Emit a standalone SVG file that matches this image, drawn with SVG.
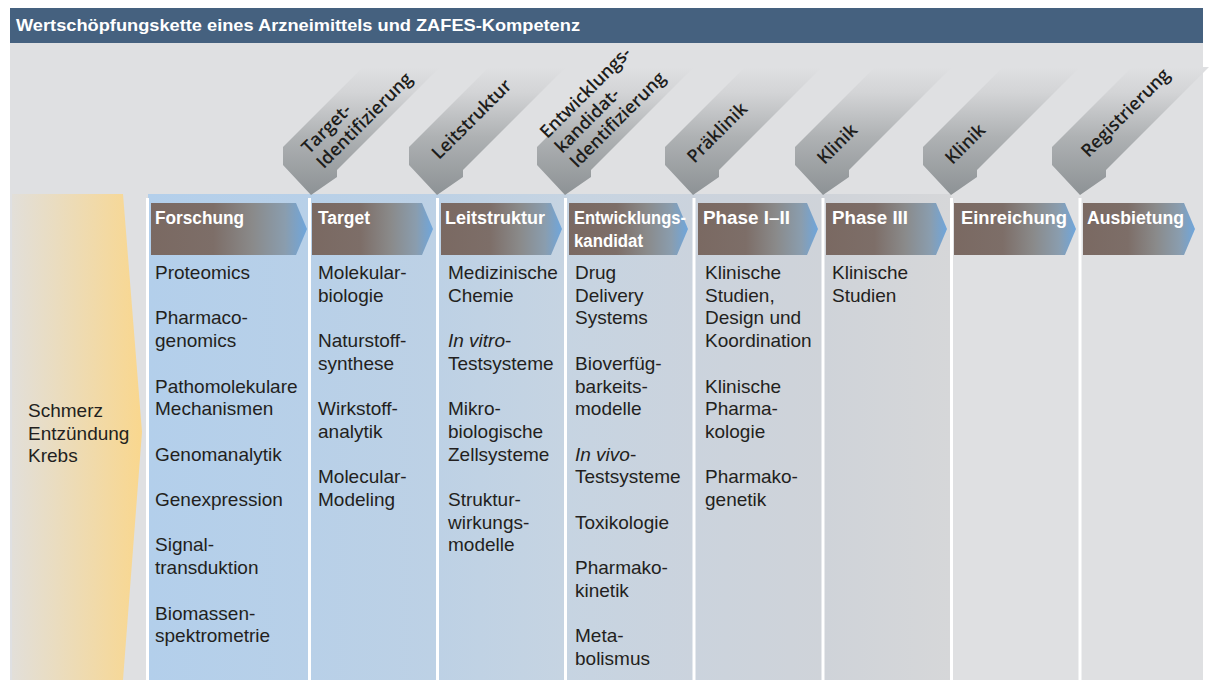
<svg xmlns="http://www.w3.org/2000/svg" width="1210" height="682" viewBox="0 0 1210 682">
<defs>
<linearGradient id="colbg" gradientUnits="userSpaceOnUse" x1="148" y1="0" x2="951" y2="0">
<stop offset="0" stop-color="#b3cfeb"/>
<stop offset="0.2" stop-color="#b8d0e8"/>
<stop offset="0.36" stop-color="#bdd1e5"/>
<stop offset="0.52" stop-color="#c6d4e2"/>
<stop offset="0.68" stop-color="#cbd3dd"/>
<stop offset="0.84" stop-color="#cfd3d9"/>
<stop offset="1" stop-color="#d6d7d9"/>
</linearGradient>
<linearGradient id="orange" gradientUnits="userSpaceOnUse" x1="12" y1="0" x2="140" y2="0">
<stop offset="0" stop-color="#e2dfd9"/>
<stop offset="1" stop-color="#f9d78f"/>
</linearGradient>
<linearGradient id="hdr" x1="0" y1="0" x2="1" y2="0">
<stop offset="0" stop-color="#7a6962"/>
<stop offset="0.4" stop-color="#7d6e68"/>
<stop offset="0.65" stop-color="#8a8a8a"/>
<stop offset="0.86" stop-color="#8a9dae"/>
<stop offset="1" stop-color="#6fa6dc"/>
</linearGradient>
<linearGradient id="band" gradientUnits="userSpaceOnUse" x1="0" y1="0" x2="0" y2="-128">
<stop offset="0" stop-color="#8d9295"/>
<stop offset="0.45" stop-color="#aeb1b3"/>
<stop offset="0.8" stop-color="#d3d4d6"/>
<stop offset="1" stop-color="#dfe0e2"/>
</linearGradient>
<polygon id="chev" points="0,0 -28,-30 -28,-48 52,-128 129,-128 26,-25 26,-18"/>
</defs>
<style>
.body{font-family:"Liberation Sans",Arial,sans-serif;font-size:19px;fill:#231f20}
.hd{font-family:"Liberation Sans",Arial,sans-serif;font-size:18px;font-weight:bold;fill:#ffffff}
.rt{font-family:"Open Sans","Noto Sans",sans-serif;font-size:18px;font-weight:600;fill:#1d1d1b}
.sep{fill:#ffffff}
.hp{fill:url(#hdr)}
.it{font-style:italic}
</style>

<rect x="10" y="8" width="1193" height="674" fill="#ffffff"/>
<rect x="10" y="42" width="1193" height="638" fill="#dfe0e2"/>
<g id="title">
<rect x="10" y="8" width="1193" height="35" fill="#45617f"/>
<text x="16" y="31" font-family="Liberation Sans, Arial, sans-serif" font-size="17" font-weight="bold" fill="#ffffff" textLength="564" lengthAdjust="spacingAndGlyphs">Wertschöpfungskette eines Arzneimittels und ZAFES-Kompetenz</text>
</g>

<g id="indications">
<polygon points="12,194 123,194 142,432 123,680 12,680" fill="url(#orange)"/>
<text class="body"><tspan x="28" y="417">Schmerz</tspan><tspan x="28" y="439.7">Entzündung</tspan><tspan x="28" y="462.4">Krebs</tspan></text>
</g>

<rect id="columns-bg" x="148" y="194" width="803" height="486" fill="url(#colbg)"/>

<g id="separators">
<rect class="sep" x="146" y="198" width="3" height="482"/>
<rect class="sep" x="308" y="198" width="3" height="482"/>
<rect class="sep" x="436" y="198" width="3" height="482"/>
<rect class="sep" x="564" y="198" width="3" height="482"/>
<rect class="sep" x="692.5" y="198" width="3" height="482"/>
<rect class="sep" x="821.5" y="198" width="3" height="482"/>
<rect class="sep" x="950" y="198" width="3" height="482"/>
<rect class="sep" x="1078.5" y="198" width="3" height="482"/>
</g>

<g id="stage-target-identifizierung" transform="translate(311,195)">
<use href="#chev" fill="url(#band)"/>
<text class="rt" transform="rotate(-45)"><tspan x="27" y="-30">Target-</tspan><tspan x="27" y="-9">Identifizierung</tspan></text>
</g>
<g id="stage-leitstruktur" transform="translate(437,195)">
<use href="#chev" fill="url(#band)"/>
<text class="rt" transform="rotate(-45)" x="26" y="-23">Leitstruktur</text>
</g>
<g id="stage-entwicklungskandidat" transform="translate(565,195)">
<use href="#chev" fill="url(#band)"/>
<text class="rt" transform="rotate(-45)"><tspan x="27" y="-52">Entwicklungs-</tspan><tspan x="27" y="-31">kandidat-</tspan><tspan x="27" y="-10">Identifizierung</tspan></text>
</g>
<g id="stage-praeklinik" transform="translate(693,195)">
<use href="#chev" fill="url(#band)"/>
<text class="rt" transform="rotate(-45)" x="23" y="-21">Präklinik</text>
</g>
<g id="stage-klinik-1" transform="translate(823,195)">
<use href="#chev" fill="url(#band)"/>
<text class="rt" transform="rotate(-45)" x="22" y="-20">Klinik</text>
</g>
<g id="stage-klinik-2" transform="translate(951,195)">
<use href="#chev" fill="url(#band)"/>
<text class="rt" transform="rotate(-45)" x="22" y="-20">Klinik</text>
</g>
<g id="stage-registrierung" transform="translate(1080,195)">
<use href="#chev" fill="url(#band)"/>
<text class="rt" transform="rotate(-45)" x="32" y="-20">Registrierung</text>
</g>

<g id="col-forschung">
<polygon class="hp" points="151,203 296,203 307,229 296,255 151,255"/>
<text class="hd" x="155" y="224" textLength="89" lengthAdjust="spacingAndGlyphs">Forschung</text>
<text class="body">
<tspan x="155" y="279">Proteomics</tspan>
<tspan x="155" y="324.4">Pharmaco-</tspan>
<tspan x="155" y="347.1">genomics</tspan>
<tspan x="155" y="392.5">Pathomolekulare</tspan>
<tspan x="155" y="415.2">Mechanismen</tspan>
<tspan x="155" y="460.6">Genomanalytik</tspan>
<tspan x="155" y="506">Genexpression</tspan>
<tspan x="155" y="551.4">Signal-</tspan>
<tspan x="155" y="574.1">transduktion</tspan>
<tspan x="155" y="619.5">Biomassen-</tspan>
<tspan x="155" y="642.2">spektrometrie</tspan>
</text>
</g>

<g id="col-target">
<polygon class="hp" points="312,203 422,203 433,229 422,255 312,255"/>
<text class="hd" x="318" y="224" textLength="52" lengthAdjust="spacingAndGlyphs">Target</text>
<text class="body">
<tspan x="318" y="279">Molekular-</tspan>
<tspan x="318" y="301.7">biologie</tspan>
<tspan x="318" y="347.1">Naturstoff-</tspan>
<tspan x="318" y="369.8">synthese</tspan>
<tspan x="318" y="415.2">Wirkstoff-</tspan>
<tspan x="318" y="437.9">analytik</tspan>
<tspan x="318" y="483.3">Molecular-</tspan>
<tspan x="318" y="506">Modeling</tspan>
</text>
</g>

<g id="col-leitstruktur">
<polygon class="hp" points="441,203 551,203 562,229 551,255 441,255"/>
<text class="hd" x="445" y="224" textLength="100" lengthAdjust="spacingAndGlyphs">Leitstruktur</text>
<text class="body">
<tspan x="448" y="279">Medizinische</tspan>
<tspan x="448" y="301.7">Chemie</tspan>
<tspan x="448" y="347.1"><tspan class="it">In vitro</tspan>-</tspan>
<tspan x="448" y="369.8">Testsysteme</tspan>
<tspan x="448" y="415.2">Mikro-</tspan>
<tspan x="448" y="437.9">biologische</tspan>
<tspan x="448" y="460.6">Zellsysteme</tspan>
<tspan x="448" y="506">Struktur-</tspan>
<tspan x="448" y="528.7">wirkungs-</tspan>
<tspan x="448" y="551.4">modelle</tspan>
</text>
</g>

<g id="col-entwicklungskandidat">
<polygon class="hp" points="569,203 677,203 688,229 677,255 569,255"/>
<text class="hd"><tspan x="574" y="224" textLength="112" lengthAdjust="spacingAndGlyphs">Entwicklungs-</tspan><tspan x="574" y="247" textLength="69" lengthAdjust="spacingAndGlyphs">kandidat</tspan></text>
<text class="body">
<tspan x="575" y="279">Drug</tspan>
<tspan x="575" y="301.7">Delivery</tspan>
<tspan x="575" y="324.4">Systems</tspan>
<tspan x="575" y="369.8">Bioverfüg-</tspan>
<tspan x="575" y="392.5">barkeits-</tspan>
<tspan x="575" y="415.2">modelle</tspan>
<tspan x="575" y="460.6"><tspan class="it">In vivo</tspan>-</tspan>
<tspan x="575" y="483.3">Testsysteme</tspan>
<tspan x="575" y="528.7">Toxikologie</tspan>
<tspan x="575" y="574.1">Pharmako-</tspan>
<tspan x="575" y="596.8">kinetik</tspan>
<tspan x="575" y="642.2">Meta-</tspan>
<tspan x="575" y="664.9">bolismus</tspan>
</text>
</g>

<g id="col-phase-1-2">
<polygon class="hp" points="698,203 807,203 818,229 807,255 698,255"/>
<text class="hd" x="703" y="224" textLength="87" lengthAdjust="spacingAndGlyphs">Phase I–II</text>
<text class="body">
<tspan x="705" y="279">Klinische</tspan>
<tspan x="705" y="301.7">Studien,</tspan>
<tspan x="705" y="324.4">Design und</tspan>
<tspan x="705" y="347.1">Koordination</tspan>
<tspan x="705" y="392.5">Klinische</tspan>
<tspan x="705" y="415.2">Pharma-</tspan>
<tspan x="705" y="437.9">kologie</tspan>
<tspan x="705" y="483.3">Pharmako-</tspan>
<tspan x="705" y="506">genetik</tspan>
</text>
</g>

<g id="col-phase-3">
<polygon class="hp" points="826,203 936,203 947,229 936,255 826,255"/>
<text class="hd" x="832" y="224" textLength="76" lengthAdjust="spacingAndGlyphs">Phase III</text>
<text class="body">
<tspan x="832" y="279">Klinische</tspan>
<tspan x="832" y="301.7">Studien</tspan>
</text>
</g>

<g id="col-einreichung">
<polygon class="hp" points="954,203 1065,203 1076,229 1065,255 954,255"/>
<text class="hd" x="961" y="224" textLength="106" lengthAdjust="spacingAndGlyphs">Einreichung</text>
</g>

<g id="col-ausbietung">
<polygon class="hp" points="1083,203 1184,203 1195,229 1184,255 1083,255"/>
<text class="hd" x="1087" y="224" textLength="97" lengthAdjust="spacingAndGlyphs">Ausbietung</text>
</g>
</svg>
